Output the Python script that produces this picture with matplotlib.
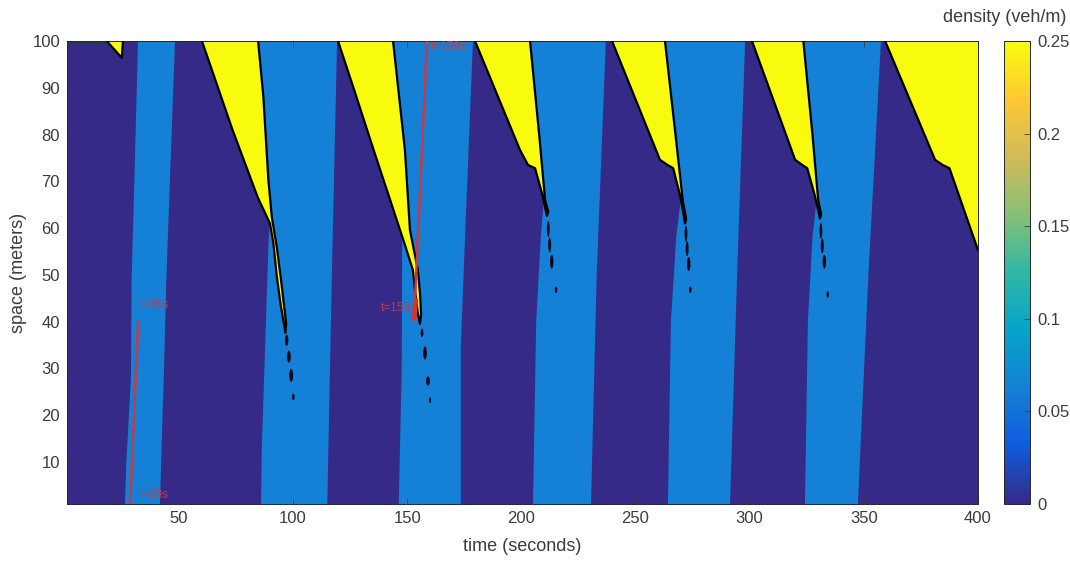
import numpy as np
import matplotlib
matplotlib.use("Agg")
import matplotlib.pyplot as plt
from matplotlib.colors import LinearSegmentedColormap, Normalize
from matplotlib.cm import ScalarMappable
from matplotlib.patches import Ellipse

plt.rcParams['font.family'] = ['Liberation Sans', 'DejaVu Sans']

# ---------------- data ----------------
# density levels (veh/m)
rho_free = 0.0
rho_discharge = 0.0625
rho_jam = 0.25
cbar_ticks = [0, 0.05, 0.1, 0.15, 0.2, 0.25]
cbar_labels = ["0", "0.05", "0.1", "0.15", "0.2", "0.25"]
x_ticks = [50, 100, 150, 200, 250, 300, 350, 400]
y_ticks = [10, 20, 30, 40, 50, 60, 70, 80, 90, 100]

# discharge (medium density) bands: polygon vertices (time s, space m)
band1_t = [32.1, 48.3, 44.5, 43.5, 41.7, 26.4, 27.0, 29.0, 29.3, 30.5]
band1_x = [100, 100, 49, 30, 1, 1, 10, 28, 49, 70]
band2_t = [84.7, 119.3, 117.0, 115.0, 86.0, 86.3, 89.2, 89.9, 87.0]
band2_x = [100, 100, 50, 1, 1, 12.5, 56, 62.4, 88.1]
band3_t = [143.8, 178.8, 175.5, 173.5, 173.5, 146.3, 147.6, 147.8, 149.0]
band3_x = [100, 100, 60, 35, 1, 1, 30, 60, 76.7]
band4_t = [203.8, 237.0, 233.0, 230.5, 205.1, 206.5, 208.5, 209.8, 207.8]
band4_x = [100, 100, 50, 1, 1, 40, 58, 66, 80]
band5_t = [262.9, 298.0, 294.5, 291.4, 264.2, 265.5, 267.8, 269.8, 266.5]
band5_x = [100, 100, 50, 1, 1, 40, 58, 66, 82]
band6_t = [323.5, 357.5, 352.0, 347.4, 324.2, 325.5, 327.5, 329.3, 326.5]
band6_x = [100, 100, 50, 1, 1, 40, 58, 66, 82]

# jam (high density) wedges: vertices from top-left, down to tip, back up
wedge0_t = [18.4, 25.0, 25.5]
wedge0_x = [100, 96.4, 100]
wedge1_t = [60.1, 73.5, 84.6, 89.9, 91.4, 92.9, 94.6, 96.2, 96.6, 97.0, 95.8, 94.9, 92.9, 90.7, 89.2, 87.0, 84.7]
wedge1_x = [100, 81.0, 66.5, 61.0, 56.7, 49.6, 43.5, 39.0, 37.6, 39.5, 44.5, 48.3, 55.9, 62.4, 70.3, 88.1, 100]
wedge2_t = [119.7, 126.8, 135.3, 144.7, 149.0, 152.5, 153.6, 154.6, 155.6, 156.1, 155.6, 154.7, 151.2, 149.0, 143.8]
wedge2_x = [100, 89.5, 76.7, 62.8, 56.4, 51.0, 46.0, 42.0, 39.5, 41.5, 46.0, 51.0, 59.6, 76.7, 100]
wedge3_t = [179.7, 199.4, 202.9, 206.0, 209.0, 211.2, 211.8, 210.4, 207.8, 203.8]
wedge3_x = [100, 76.7, 73.5, 72.8, 67.5, 62.6, 63.5, 66.0, 80.0, 100]
wedge4_t = [239.7, 260.7, 264.0, 266.5, 269.5, 271.7, 272.2, 270.8, 267.5, 262.9]
wedge4_x = [100, 74.6, 73.5, 72.8, 67.0, 61.0, 62.0, 65.5, 80.0, 100]
wedge5_t = [301.0, 319.9, 323.0, 325.2, 328.5, 330.8, 331.3, 330.0, 327.5, 323.5]
wedge5_x = [100, 74.6, 73.5, 72.8, 67.0, 62.0, 63.0, 66.0, 80.0, 100]
wedge6_t = [359.3, 381.2, 384.5, 387.5, 400.0, 400.0]
wedge6_x = [100, 74.6, 73.5, 72.8, 55.3, 100]

# isolated jam blobs below wedge tips: centre time, centre space, width (s), height (m)
blob_t = [97.2, 98.2, 99.2, 100.1, 156.5, 157.8, 159.1, 160.0,
          211.8, 212.4, 213.3, 215.2, 272.1, 272.6, 273.3, 274.0,
          331.2, 331.8, 332.7, 334.2]
blob_x = [36.0, 32.5, 28.5, 23.9, 37.6, 33.3, 27.3, 23.2,
          59.8, 56.4, 52.8, 46.8, 58.8, 55.6, 52.3, 46.8,
          59.4, 56.2, 52.8, 45.8]
blob_w = [1.5, 1.6, 1.7, 1.2, 1.2, 1.6, 1.6, 1.0,
          1.2, 1.3, 1.5, 1.1, 1.2, 1.3, 1.5, 1.1,
          1.2, 1.3, 1.5, 1.1]
blob_h = [2.4, 2.6, 2.8, 1.4, 1.8, 2.8, 2.0, 1.2,
          3.4, 3.2, 3.0, 1.4, 3.4, 3.2, 3.0, 1.4,
          3.4, 3.2, 3.0, 1.4]

# red annotations
red1_t = [28.6, 32.2]
red1_x = [1, 40]
red2_t = [153.0, 158.7]
red2_x = [40.3, 100]
red2b_t = [153.0, 153.7]
red2b_x = [40.3, 45.0]
notes = [(33.0, 43.5, "t=35s", "left"), (33.0, 3.0, "t=29s", "left"),
         (151.5, 43.0, "t=153", "right"), (160.5, 98.8, "t=159s", "left")]

# ---------------- colormap (parula approximation) ----------------
parula_colors = ['#352a87', '#0f5cdd', '#1481d6', '#06a4ca', '#2eb7a4',
                 '#87bf77', '#d1bb59', '#fec832', '#f9fb0e']
cmap = LinearSegmentedColormap.from_list('parula', parula_colors, N=256)
norm = Normalize(vmin=0, vmax=0.25)

c_free = cmap(norm(rho_free))
c_dis = cmap(norm(rho_discharge))
c_jam = cmap(norm(rho_jam))

# ---------------- figure ----------------
W, H = 1070, 563
fig = plt.figure(figsize=(W / 100, H / 100), dpi=100)
ax = fig.add_axes([67 / W, 59 / H, 911 / W, 463 / H])
cax = fig.add_axes([1004 / W, 59 / H, 26 / W, 463 / H])

ax.set_xlim(1, 400)
ax.set_ylim(1, 100)
ax.set_facecolor(c_free)

bands = [(band1_t, band1_x), (band2_t, band2_x), (band3_t, band3_x),
         (band4_t, band4_x), (band5_t, band5_x), (band6_t, band6_x)]
for bt, bx in bands:
    ax.fill(bt, bx, color=c_dis, lw=0, zorder=1)

ax.plot([1, 18.4], [99.6, 99.6], color='#22403c', lw=1.2, zorder=3)

wedges = [(wedge0_t, wedge0_x), (wedge1_t, wedge1_x), (wedge2_t, wedge2_x),
          (wedge3_t, wedge3_x), (wedge4_t, wedge4_x), (wedge5_t, wedge5_x)]
for wt, wx in wedges:
    ax.fill(wt, wx, color=c_jam, lw=0, zorder=2)
    ax.plot(wt, wx, color='black', lw=1.6, zorder=3, solid_joinstyle='round')
ax.fill(wedge6_t, wedge6_x, color=c_jam, lw=0, zorder=2)
ax.plot(wedge6_t[:-1], wedge6_x[:-1], color='black', lw=1.6, zorder=3)

for bt, bx, bw, bh in zip(blob_t, blob_x, blob_w, blob_h):
    ax.add_patch(Ellipse((bt, bx), bw, bh, facecolor='#05081a', edgecolor='none', zorder=3))

red = '#c83a44'
ax.plot(red1_t, red1_x, color=red, lw=1.8, zorder=4)
ax.plot(red2_t, red2_x, color=red, lw=1.8, zorder=4)
ax.plot(red2b_t, red2b_x, color='#e0302a', lw=3.5, zorder=4, solid_capstyle='butt')
for nt, nx, txt, ha in notes:
    ax.text(nt, nx, txt, color=red, fontsize=8.5, ha=ha, va='center', zorder=5)

ax.set_xticks(x_ticks)
ax.set_yticks(y_ticks)
axis_col = '#3c3c3c'
ax.tick_params(direction='in', length=4, width=0.6, colors=axis_col, pad=5,
               labelsize=12, top=True, right=True, labeltop=False, labelright=False)
for sp in ax.spines.values():
    sp.set_color('#262626')
    sp.set_linewidth(0.7)
ax.set_xlabel("time (seconds)", fontsize=13, color=axis_col, labelpad=9)
ax.set_ylabel("space (meters)", fontsize=13, color=axis_col, labelpad=4)

cb = fig.colorbar(ScalarMappable(norm=norm, cmap=cmap), cax=cax)
cb.set_ticks(cbar_ticks)
cb.set_ticklabels(cbar_labels)
cax.tick_params(direction='in', length=4, width=0.6, colors=axis_col, labelsize=12, pad=5)
cb.outline.set_edgecolor('#262626')
cb.outline.set_linewidth(0.7)
fig.text(1066 / W, 1 - 17 / H, "density (veh/m)", ha='right', va='center',
         fontsize=13, color=axis_col)

fig.savefig("out.png", dpi=100)
